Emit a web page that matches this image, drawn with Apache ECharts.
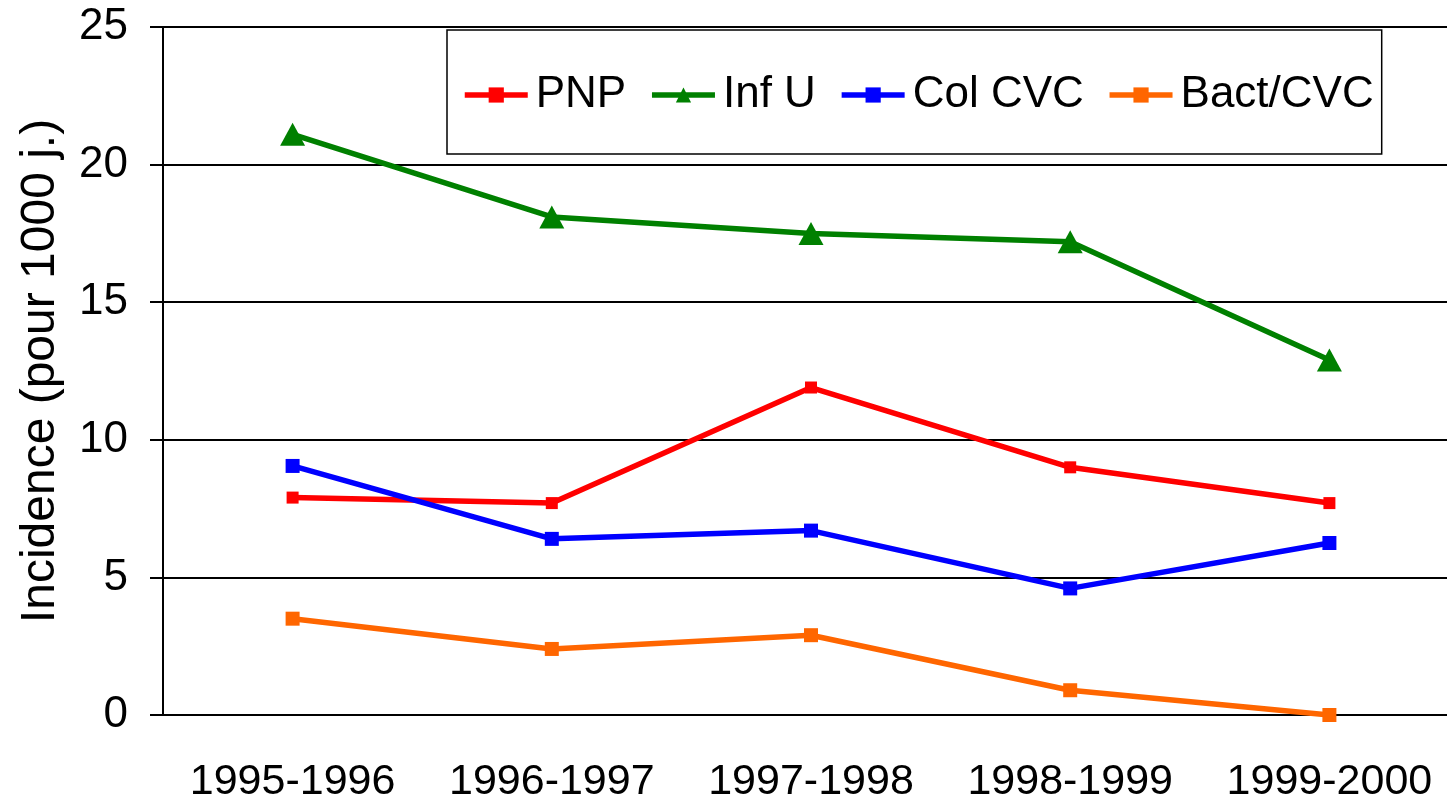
<!DOCTYPE html>
<html>
<head>
<meta charset="utf-8">
<script src="https://cdn.jsdelivr.net/npm/echarts@6/dist/echarts.min.js"></script>
<style>
  html, body { margin: 0; padding: 0; background: #fff; overflow: hidden; }
  /* the original plot runs a little past the right edge of the picture */
  #main { width: 1459px; height: 806px; }
</style>
</head>
<body>
<div id="main"></div>
<script>
var seasons = ['1995-1996', '1996-1997', '1997-1998', '1998-1999', '1999-2000'];
var pnp = [7.9, 7.7, 11.9, 9.0, 7.7];
var infU = [21.1, 18.1, 17.5, 17.2, 12.9];
var colCvc = [9.05, 6.4, 6.7, 4.6, 6.25];
var bactCvc = [3.5, 2.4, 2.9, 0.9, 0.0];

var font = 'Liberation Sans, Arial, sans-serif';

function line(name, data, color, symbol, size) {
    return {
        name: name,
        type: 'line',
        data: data,
        symbol: symbol,
        symbolSize: size,
        showAllSymbol: true,
        itemStyle: { color: color },
        lineStyle: { color: color, width: 5.5 },
        emphasis: { disabled: true },
        animation: false
    };
}

var myChart = echarts.init(document.getElementById('main'));
var option = {
    animation: false,
    grid: { left: 163, right: 0, top: 27, bottom: 91, containLabel: false },
    legend: {
        left: 447,
        top: 30,
        padding: [43, 8, 37, 15],
        borderColor: '#000',
        borderWidth: 1.5,
        backgroundColor: '#fff',
        itemWidth: 63,
        itemHeight: 19,
        itemGap: 23,
        lineStyle: { width: 5.5 },
        textStyle: { fontFamily: font, fontSize: 44, color: '#000', lineHeight: 44, padding: [0, 0, 0, 3] },
        data: ['PNP', 'Inf U', 'Col CVC', 'Bact/CVC']
    },
    xAxis: {
        type: 'category',
        data: seasons,
        boundaryGap: true,
        axisLine: { lineStyle: { color: '#000', width: 2 } },
        axisTick: { length: 15, lineStyle: { color: '#000', width: 2 } },
        axisLabel: { interval: 0, fontFamily: font, fontSize: 43, color: '#000', margin: 46 }
    },
    yAxis: {
        type: 'value',
        min: 0,
        max: 25,
        interval: 5,
        name: 'Incidence (pour 1000 j.)',
        nameLocation: 'middle',
        nameGap: 98,
        nameTextStyle: { fontFamily: font, fontSize: 48, color: '#000' },
        axisLine: { show: true, lineStyle: { color: '#000', width: 2 } },
        axisTick: { show: true, length: 13, lineStyle: { color: '#000', width: 2 } },
        axisLabel: { fontFamily: font, fontSize: 44, color: '#000', margin: 35 },
        splitLine: { lineStyle: { color: '#000', width: 2 } }
    },
    series: [
        line('PNP', pnp, '#ff0000', 'rect', 12),
        line('Inf U', infU, '#008000', 'triangle', [25, 23]),
        line('Col CVC', colCvc, '#0000ff', 'rect', 14),
        line('Bact/CVC', bactCvc, '#ff6600', 'rect', 14)
    ]
};
myChart.setOption(option);
</script>
</body>
</html>
